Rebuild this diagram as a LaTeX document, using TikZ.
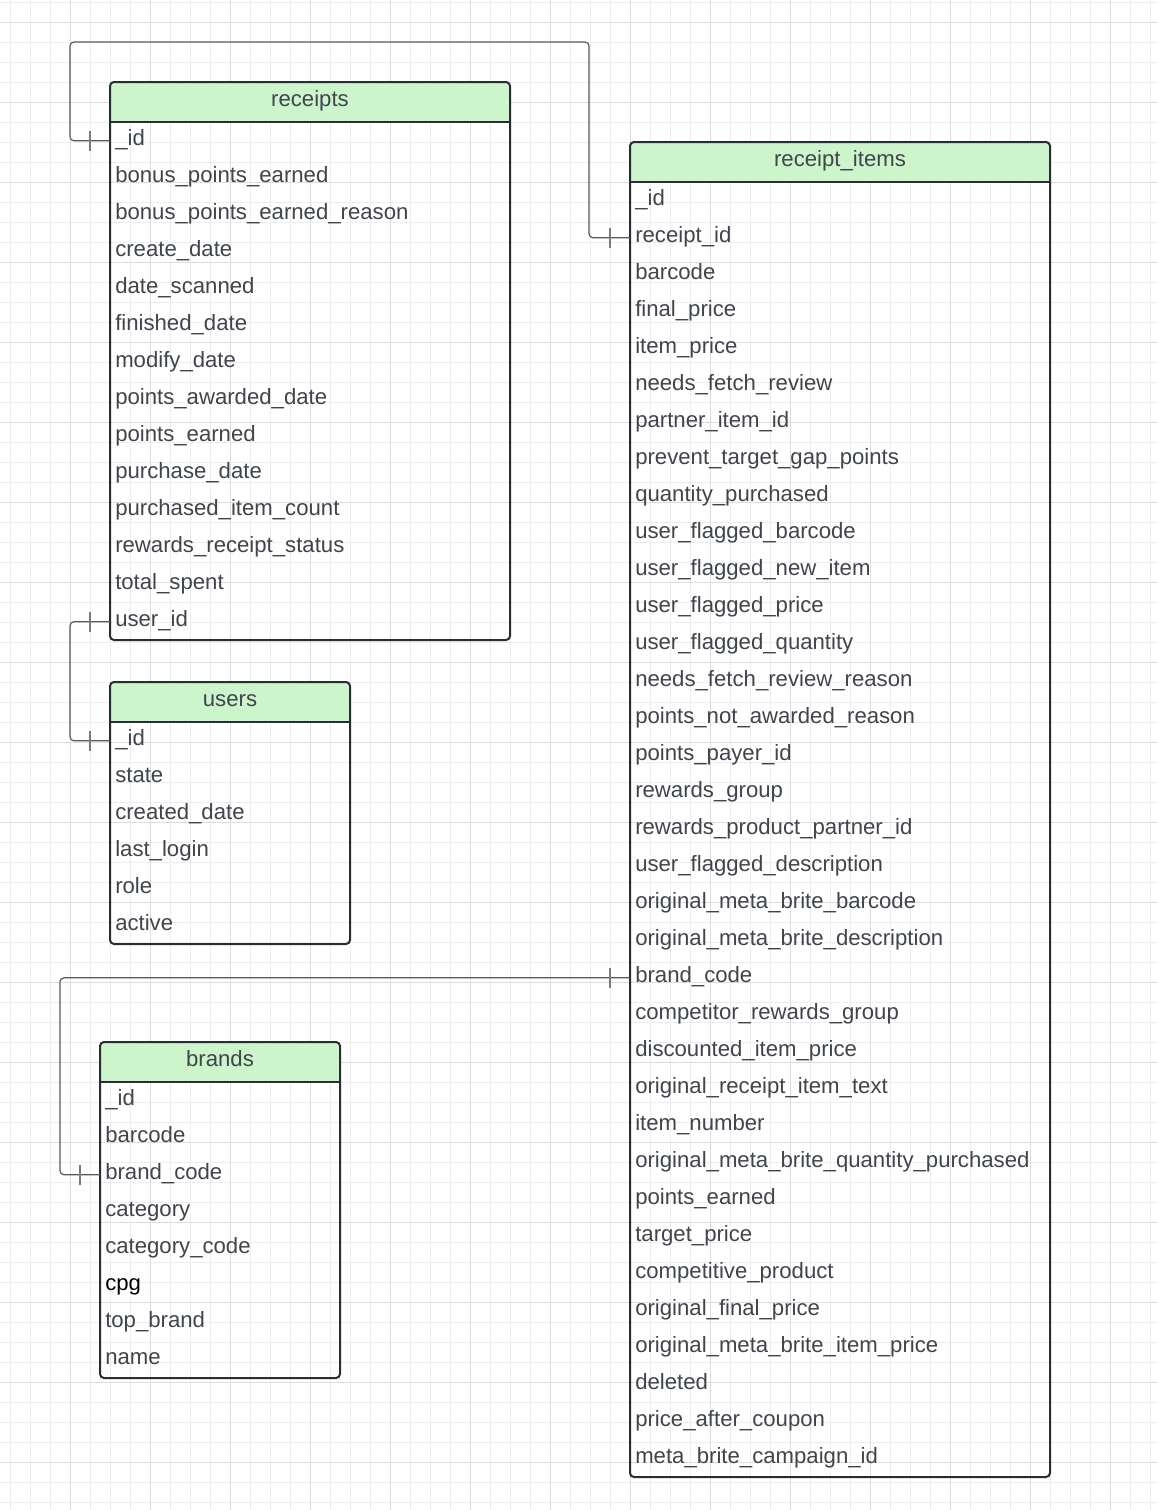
\documentclass[tikz,border=0pt]{standalone}
\usepackage{fontspec}
\setmainfont{Liberation Sans}
\definecolor{gridminor}{HTML}{EDEDED}
\definecolor{gridmajor}{HTML}{DCDCDC}
\definecolor{hdrgreen}{HTML}{CCF5CC}
\definecolor{tblborder}{HTML}{282C33}
\definecolor{fieldtxt}{HTML}{40454C}
\definecolor{connclr}{HTML}{555A62}
\tikzset{
  gridminorline/.style={draw=gridminor, line width=0.75pt},
  gridmajorline/.style={draw=gridmajor, line width=0.75pt},
  tblframe/.style={draw=tblborder, line width=1.5pt, rounded corners=3pt},
  hdrfill/.style={fill=hdrgreen},
  titletext/.style={inner sep=0pt, text height=12pt, text depth=5.25pt, text=fieldtxt, anchor=center},
  fieldrow/.style={rectangle, anchor=north west, inner xsep=3.75pt, inner ysep=0pt,
     minimum height=27.75pt, align=left, text height=12pt, text depth=5.25pt, text=fieldtxt},
  conn/.style={draw=connclr, line width=0.9pt, rounded corners=3pt},
  onetick/.style={draw=connclr!80, line width=0.9pt},
}
% #1 name, #2 left, #3 top, #4 width px, #5 text width pt, #6 title, #7 rows count, #8 fields
\newcommand{\erTable}[8]{%
  \fill[hdrfill, rounded corners=3pt] (#2,#3) rectangle (#2+#4,#3+40);
  \fill[hdrfill] (#2,#3+20) rectangle (#2+#4,#3+40);
  \node[titletext] (#1) at (#2+#4/2,#3+20) {#6};
  \foreach \f [count=\i from 0] in {#8} {
    \node[fieldrow, text width=#5] (#1-\i) at (#2,{#3+40+37*\i}) {\f};
  }
  \draw[tblframe] (#2,#3) rectangle (#2+#4,{#3+40+37*#7});
  \draw[draw=tblborder, line width=1.5pt] (#2,#3+40) -- (#2+#4,#3+40);
}
\begin{document}
\begin{tikzpicture}[x=0.75pt, y=-0.75pt, font=\fontsize{16.62pt}{19pt}\selectfont]
\useasboundingbox (0,0) rectangle (1158,1510);
\fill[white] (0,0) rectangle (1158,1510);
% grid
\foreach \x in {10,30,...,1150} \draw[gridminorline] (\x,0) -- (\x,1510);
\foreach \y in {2,22,...,1502} \draw[gridminorline] (0,\y) -- (1158,\y);
\foreach \x in {70,150,...,1150} \draw[gridmajorline] (\x,0) -- (\x,1510);
\foreach \y in {22,102,...,1502} \draw[gridmajorline] (0,\y) -- (1158,\y);

% tables
\erTable{receipts}{110}{82}{400}{292.5pt}{receipts}{14}{\_id,bonus\_points\_earned,bonus\_points\_earned\_reason,create\_date,date\_scanned,finished\_date,modify\_date,points\_awarded\_date,points\_earned,purchase\_date,purchased\_item\_count,rewards\_receipt\_status,total\_spent,user\_id}

\erTable{items}{630}{142}{420}{307.5pt}{receipt\_items}{35}{\_id,receipt\_id,barcode,final\_price,item\_price,needs\_fetch\_review,partner\_item\_id,prevent\_target\_gap\_points,quantity\_purchased,user\_flagged\_barcode,user\_flagged\_new\_item,user\_flagged\_price,user\_flagged\_quantity,needs\_fetch\_review\_reason,points\_not\_awarded\_reason,points\_payer\_id,rewards\_group,rewards\_product\_partner\_id,user\_flagged\_description,original\_meta\_brite\_barcode,original\_meta\_brite\_description,brand\_code,competitor\_rewards\_group,discounted\_item\_price,original\_receipt\_item\_text,item\_number,original\_meta\_brite\_quantity\_purchased,points\_earned,target\_price,competitive\_product,original\_final\_price,original\_meta\_brite\_item\_price,deleted,price\_after\_coupon,meta\_brite\_campaign\_id}

\erTable{users}{110}{682}{240}{172.5pt}{users}{6}{\_id,state,created\_date,last\_login,role,active}

\erTable{brands}{100}{1042}{240}{172.5pt}{brands}{8}{\_id,barcode,brand\_code,category,category\_code,\textcolor{black}{cpg},top\_brand,name}

% connectors
\draw[conn] (receipts-0.west) -| (70,42) -| ([xshift=-30.75pt]items-1.west) -- (items-1.west);
\draw[conn] (receipts-13.west) -| ([xshift=-30pt]users-0.west) -- (users-0.west);
\draw[conn] (items-21.west) -| ([xshift=-30pt]brands-2.west) -- (brands-2.west);

% one-marks
\foreach \n in {receipts-0,items-1,receipts-13,users-0,items-21,brands-2}
  \draw[onetick] ([xshift=-15pt,yshift=7.5pt]\n.west) -- ([xshift=-15pt,yshift=-7.5pt]\n.west);
\end{tikzpicture}
\end{document}
